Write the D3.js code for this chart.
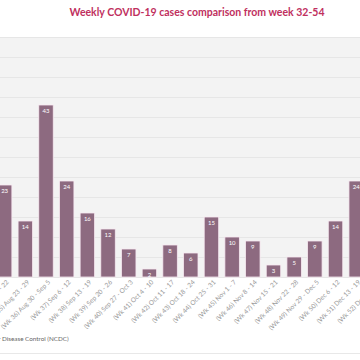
<!doctype html>
<html>
<head>
    <meta charset="UTF-8">
    <title>Weekly COVID-19 cases</title>
    <script src="https://d3js.org/d3.v7.min.js"></script>
    <style>
        body { margin: 0; background: #fff; }
        svg { display: block; font-family: Lato, "Open Sans", sans-serif; }
    </style>
</head>
<body>
    <svg width="360" height="360"></svg>
    <script>
        // weeks visible in the frame (wk 52 bar lies outside it)
        var weeks = ["(Wk 34) Aug 16 - 22", "(Wk 35) Aug 23 - 29", "(Wk 36) Aug 30 - Sep 5",
            "(Wk 37) Sep 6 - 12", "(Wk 38) Sep 13 - 19", "(Wk 39) Sep 20 - 26",
            "(Wk 40) Sep 27 - Oct 3", "(Wk 41) Oct 4 - 10", "(Wk 42) Oct 11 - 17",
            "(Wk 43) Oct 18 - 24", "(Wk 44) Oct 25 - 31", "(Wk 45) Nov 1 - 7",
            "(Wk 46) Nov 8 - 14", "(Wk 47) Nov 15 - 21", "(Wk 48) Nov 22 - 28",
            "(Wk 49) Nov 29 - Dec 5", "(Wk 50) Dec 6 - 12", "(Wk 51) Dec 13 - 19",
            "(Wk 52) Dec 20 - 26"];
        var cases = [23, 14, 43, 24, 16, 12, 7, 2, 8, 6, 15, 10, 9, 3, 5, 9, 14, 24, null];
        var yTicks = [0, 5, 10, 15, 20, 25, 30, 35, 40, 45, 50, 55, 60];

        var svg = d3.select("svg");
        var plotTop = 37, plotBase = 277;

        var x = d3.scaleBand()
            .domain(weeks)
            .range([-5.7, -5.7 + 20.68 * weeks.length])
            .paddingInner(0.3)
            .paddingOuter(0.15);
        var y = d3.scaleLinear().domain([0, 60]).range([plotBase, plotTop]);

        // plot background
        svg.append("rect")
            .attr("x", 0).attr("y", plotTop)
            .attr("width", 360).attr("height", plotBase - plotTop)
            .attr("fill", "#f3f3f3");

        // grid lines
        svg.append("g")
            .attr("class", "grid")
            .call(d3.axisLeft(y).tickValues(yTicks).tickSize(-400).tickFormat(""))
            .call(function (g) {
                g.select(".domain").remove();
                g.selectAll("line").attr("stroke", "#e6e6e6").attr("stroke-width", 1);
            });

        var data = weeks.map(function (w, i) { return { week: w, value: cases[i] }; })
            .filter(function (d) { return d.value != null; });

        svg.append("g").selectAll("rect")
            .data(data)
            .enter().append("rect")
            .attr("x", function (d) { return x(d.week); })
            .attr("y", function (d) { return y(d.value); })
            .attr("width", x.bandwidth())
            .attr("height", function (d) { return plotBase - y(d.value); })
            .attr("fill", "#8d6a80")
            .attr("stroke", "#f7e9f1")
            .attr("stroke-width", 0.8);

        svg.append("g").selectAll("text")
            .data(data)
            .enter().append("text")
            .attr("x", function (d) { return x(d.week) + x.bandwidth() / 2; })
            .attr("y", function (d) { return y(d.value) + 7.5; })
            .attr("text-anchor", "middle")
            .attr("font-size", 6)
            .attr("fill", "#fff")
            .text(function (d) { return d.value; });

        // x labels
        svg.append("g").selectAll("text")
            .data(weeks)
            .enter().append("text")
            .attr("transform", function (d) {
                return "translate(" + (x(d) + x.bandwidth() / 2 + 3) + "," + (plotBase + 4) + ") rotate(-45)";
            })
            .attr("text-anchor", "end")
            .attr("dy", "0.35em")
            .attr("font-size", 6.5)
            .attr("fill", "#999")
            .text(function (d) { return d; });

        // title
        svg.append("text")
            .attr("x", 197).attr("y", 16)
            .attr("text-anchor", "middle")
            .attr("font-size", 10.5)
            .attr("font-weight", 700)
            .attr("fill", "#c0305e")
            .text("Weekly COVID-19 cases comparison from week 32-54");

        // source - the frame starts at "Disease"
        var src = svg.append("text")
            .attr("y", 341)
            .attr("font-size", 6.3)
            .attr("fill", "#666");
        var lead = src.append("tspan").text("Source: Nigeria Centre for ");
        src.append("tspan").text("Disease Control (NCDC)");
        var leadW = lead.node().getComputedTextLength();
        src.attr("x", 2 - leadW);

        svg.append("line")
            .attr("x1", 0).attr("x2", 360)
            .attr("y1", 353.5).attr("y2", 353.5)
            .attr("stroke", "#e8e8e8");
    </script>
</body>
</html>
